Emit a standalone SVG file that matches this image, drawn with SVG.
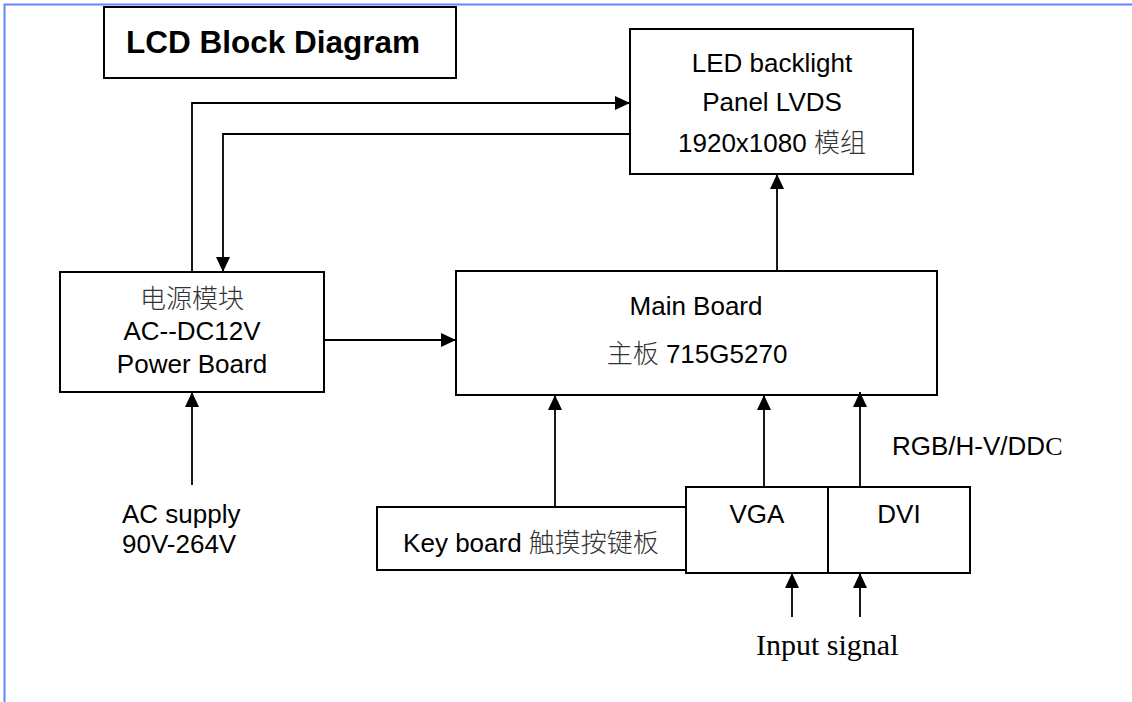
<svg xmlns="http://www.w3.org/2000/svg" width="1132" height="702" viewBox="0 0 1132 702">
<style>
.box{fill:#fff;stroke:#000;stroke-width:2}
.ln{fill:none;stroke:#000;stroke-width:1.8}
.t{font-family:"Liberation Sans",Arial,"Noto Sans CJK SC",sans-serif;font-size:26px;fill:#000}
.c{font-family:"Noto Sans CJK SC",sans-serif;fill:#333;font-weight:300}
.ser{font-family:"Liberation Serif","Times New Roman",serif}
</style>
<defs>
<marker id="ah" markerUnits="userSpaceOnUse" markerWidth="16" markerHeight="16" refX="15" refY="7" orient="auto">
<path d="M0,0 L15,7 L0,14 Z" fill="#000"/>
</marker>
</defs>
<rect x="0" y="0" width="1132" height="702" fill="#fff"/>
<g id="frame">
<path d="M4.5,702 V4.5 H1132" fill="none" stroke="#6384ff" stroke-width="2"/>
</g>
<g id="title">
<rect class="box" x="104" y="7" width="352" height="71"/>
<text class="t" x="126" y="53" style="font-weight:bold;font-size:31.5px">LCD Block Diagram</text>
</g>
<g id="led">
<rect class="box" x="630" y="29" width="283" height="145"/>
<text class="t" x="772" y="72" text-anchor="middle">LED backlight</text>
<text class="t" x="772" y="111" text-anchor="middle">Panel LVDS</text>
<text class="t" x="772" y="152" text-anchor="middle">1920x1080 <tspan class="c">模组</tspan></text>
</g>
<g id="power">
<rect class="box" x="60" y="272" width="264" height="120"/>
<text class="t" x="192" y="308" text-anchor="middle"><tspan class="c">电源模块</tspan></text>
<text class="t" x="192" y="340" text-anchor="middle">AC--DC12V</text>
<text class="t" x="192" y="373" text-anchor="middle">Power Board</text>
</g>
<g id="main">
<rect class="box" x="456" y="271" width="481" height="124"/>
<text class="t" x="696" y="315" text-anchor="middle">Main Board</text>
<text class="t" x="697" y="363" text-anchor="middle"><tspan class="c">主板</tspan> 715G5270</text>
</g>
<g id="keyboard">
<rect class="box" x="377" y="507" width="309" height="63"/>
<text class="t" x="531" y="552" text-anchor="middle">Key board <tspan class="c">触摸按键板</tspan></text>
</g>
<g id="vga">
<rect class="box" x="686" y="487" width="142" height="86"/>
<text class="t" x="757" y="523" text-anchor="middle">VGA</text>
</g>
<g id="dvi">
<rect class="box" x="828" y="487" width="142" height="86"/>
<text class="t" x="899" y="523" text-anchor="middle">DVI</text>
</g>
<g id="labels">
<text class="t" x="892" y="455">RGB/H-V/DD<tspan class="ser">C</tspan></text>
<text class="t" x="122" y="523">AC supply</text>
<text class="t" x="122" y="553">90V-264V</text>
<text class="ser" x="756" y="655" style="font-size:30px;fill:#000">Input signal</text>
</g>
<g id="connectors">
<path class="ln" d="M192,272 V103 H630" marker-end="url(#ah)"/>
<path class="ln" d="M630,134 H223 V272" marker-end="url(#ah)"/>
<path class="ln" d="M324,340 H456" marker-end="url(#ah)"/>
<path class="ln" d="M777,271 V174" marker-end="url(#ah)"/>
<path class="ln" d="M192,485 V392" marker-end="url(#ah)"/>
<path class="ln" d="M555,507 V395" marker-end="url(#ah)"/>
<path class="ln" d="M764,487 V395" marker-end="url(#ah)"/>
<path class="ln" d="M860,487 V392" marker-end="url(#ah)"/>
<path class="ln" d="M792,617 V573" marker-end="url(#ah)"/>
<path class="ln" d="M860,617 V573" marker-end="url(#ah)"/>
</g>
</svg>
